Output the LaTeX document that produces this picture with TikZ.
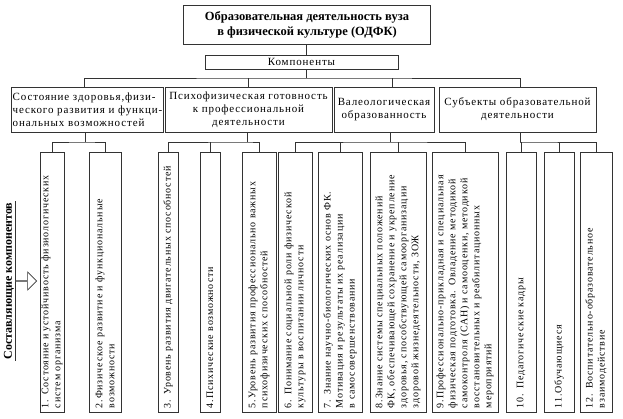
\documentclass[tikz,border=0pt]{standalone}
\usepackage{fontspec}
\setmainfont{Liberation Serif}
\newfontfamily\widefont[LetterSpace=8]{Liberation Serif}
\usetikzlibrary{calc}
\usetikzlibrary{positioning}
\usetikzlibrary{shapes.arrows}

\begin{document}
\begin{tikzpicture}[x=1pt,y=-1pt,-,line width=0.6pt,draw=black!80]
	\tikzstyle{box}=[draw, inner sep=1pt, align=center, font=\widefont\fontsize{11}{13}\selectfont]
	\tikzstyle{comp}=[draw, rotate=90, minimum width=260pt, text width=252pt, align=left, inner xsep=4pt, inner ysep=1pt, font=\widefont\fontsize{10}{12}\selectfont]
	\useasboundingbox (0,0) rectangle (623,418);
	% top
	\node[box, minimum width=247pt, minimum height=39pt, font=\bfseries\fontsize{12.5}{15}\selectfont] (T) at (307,24.5) {Образовательная деятельность вуза\\в  физической культуре  (ОДФК)};
	\node[box, minimum width=193pt, minimum height=14pt, inner sep=0pt] (K) at (301.5,62) {Компоненты};
	% components
	\node[box, minimum width=147pt, minimum height=45pt, align=left] (G1) at (87.5,109.5) {Состояние  здоровья,физи-\\ческого развития и функци-\\ональных возможностей};
	\node[box, minimum width=167pt, minimum height=45pt] (G2) at (248.5,109.5) {Психофизическая готовность\\к профессиональной\\деятельности};
	\node[box, minimum width=100pt, minimum height=45pt] (G3) at (384,109.5) {Валеологическая\\образованность};
	\node[box, minimum width=157pt, minimum height=45pt] (G4) at (517.5,109.5) {Субъекты образовательной\\деятельности};
	% parts
	\node[comp, minimum height=24pt] (C1) at (52,282) {1. Состояние и устойчивость физиологических\\систем организма};
	\node[comp, minimum height=32pt] (C2) at (105,282) {2.Физическое развитие и функциональные\\возможности};
	\node[comp, minimum height=20pt] (C3) at (168,282) {3. Уровень развития двигательных способностей};
	\node[comp, minimum height=20pt] (C4) at (210,282) {4.Психические возможности};
	\node[comp, minimum height=34pt] (C5) at (259,282) {5.Уровень развития профессионально важных\\психофизических способностей};
	\node[comp, minimum height=34pt] (C6) at (295,282) {6. Понимание социальной роли физической\\культуры в воспитании личности};
	\node[comp, minimum height=44pt] (C7) at (340,282) {7. Знание научно-биологических основ ФК.\\Мотивация и результаты их реализации\\в самосовершенствовании};
	\node[comp, minimum height=56pt] (C8) at (398,282) {8.Знание системы специальных положений\\ФК, обеспечивающей сохранение и укрепление\\здоровья, способствующей самоорганизации\\здоровой жизнедеятельности, ЗОЖ};
	\node[comp, minimum height=66pt] (C9) at (465,282) {9.Профессионально-прикладная и специальная\\физическая подготовка. Овладение методикой\\самоконтроля (САН) и самооценки, методикой\\восстановительных и реабилитационных\\мероприятий};
	\node[comp, minimum height=30pt] (C10) at (521,282) {10. Педагогические кадры};
	\node[comp, minimum height=30pt] (C11) at (559,282) {11.Обучающиеся};
	\node[comp, minimum height=32pt] (C12) at (596,282) {12. Воспитательно-образовательное\\взаимодействие};
	% label on the left
	\node[rotate=90, inner sep=1pt, font=\bfseries\fontsize{12}{14}\selectfont] (L) at (9,281) {Составляющие компонентов};
	\draw (L.south west) -- (L.south east);
	\node[draw, single arrow, fill=white, minimum height=21pt, minimum width=18pt, single arrow head extend=4pt, inner sep=0pt, anchor=tail] (A) at (L.south) {};
	% bus lines
	\coordinate (B0) at (306,78);
	\coordinate (B1) at (85,142);
	\coordinate (B2) at (247,142);
	\coordinate (B3) at (390,142);
	\coordinate (B4) at (520,142);
	\draw (T.south -| B0) -- (K.north -| B0);
	\draw (K.south -| B0) -- (B0);
	\draw (G1.north -| 84,0) |- (B0) -| (G4.north -| 520,0);
	\draw (G2.north -| 248,0) -- (248,78);
	\draw (G3.north -| 392,0) -- (392,78);
	\draw (G1.south -| B1) -- (B1);
	\draw (C1.east) |- (B1) -| (C2.east);
	\draw (G2.south -| B2) -- (B2);
	\draw (C3.east) |- (B2) -| (C5.east);
	\draw (C4.east) -- (C4.east |- B2);
	\draw (G3.south -| B3) -- (B3);
	\draw (C6.east) |- (B3) -| (C9.east);
	\draw (C7.east) -- (C7.east |- B3);
	\draw (C8.east) -- (C8.east |- B3);
	\draw (G4.south -| B4) -- (B4);
	\draw (C10.east) |- (B4) -| (C12.east);
	\draw (C11.east) -- (C11.east |- B4);
\end{tikzpicture}
\end{document}
